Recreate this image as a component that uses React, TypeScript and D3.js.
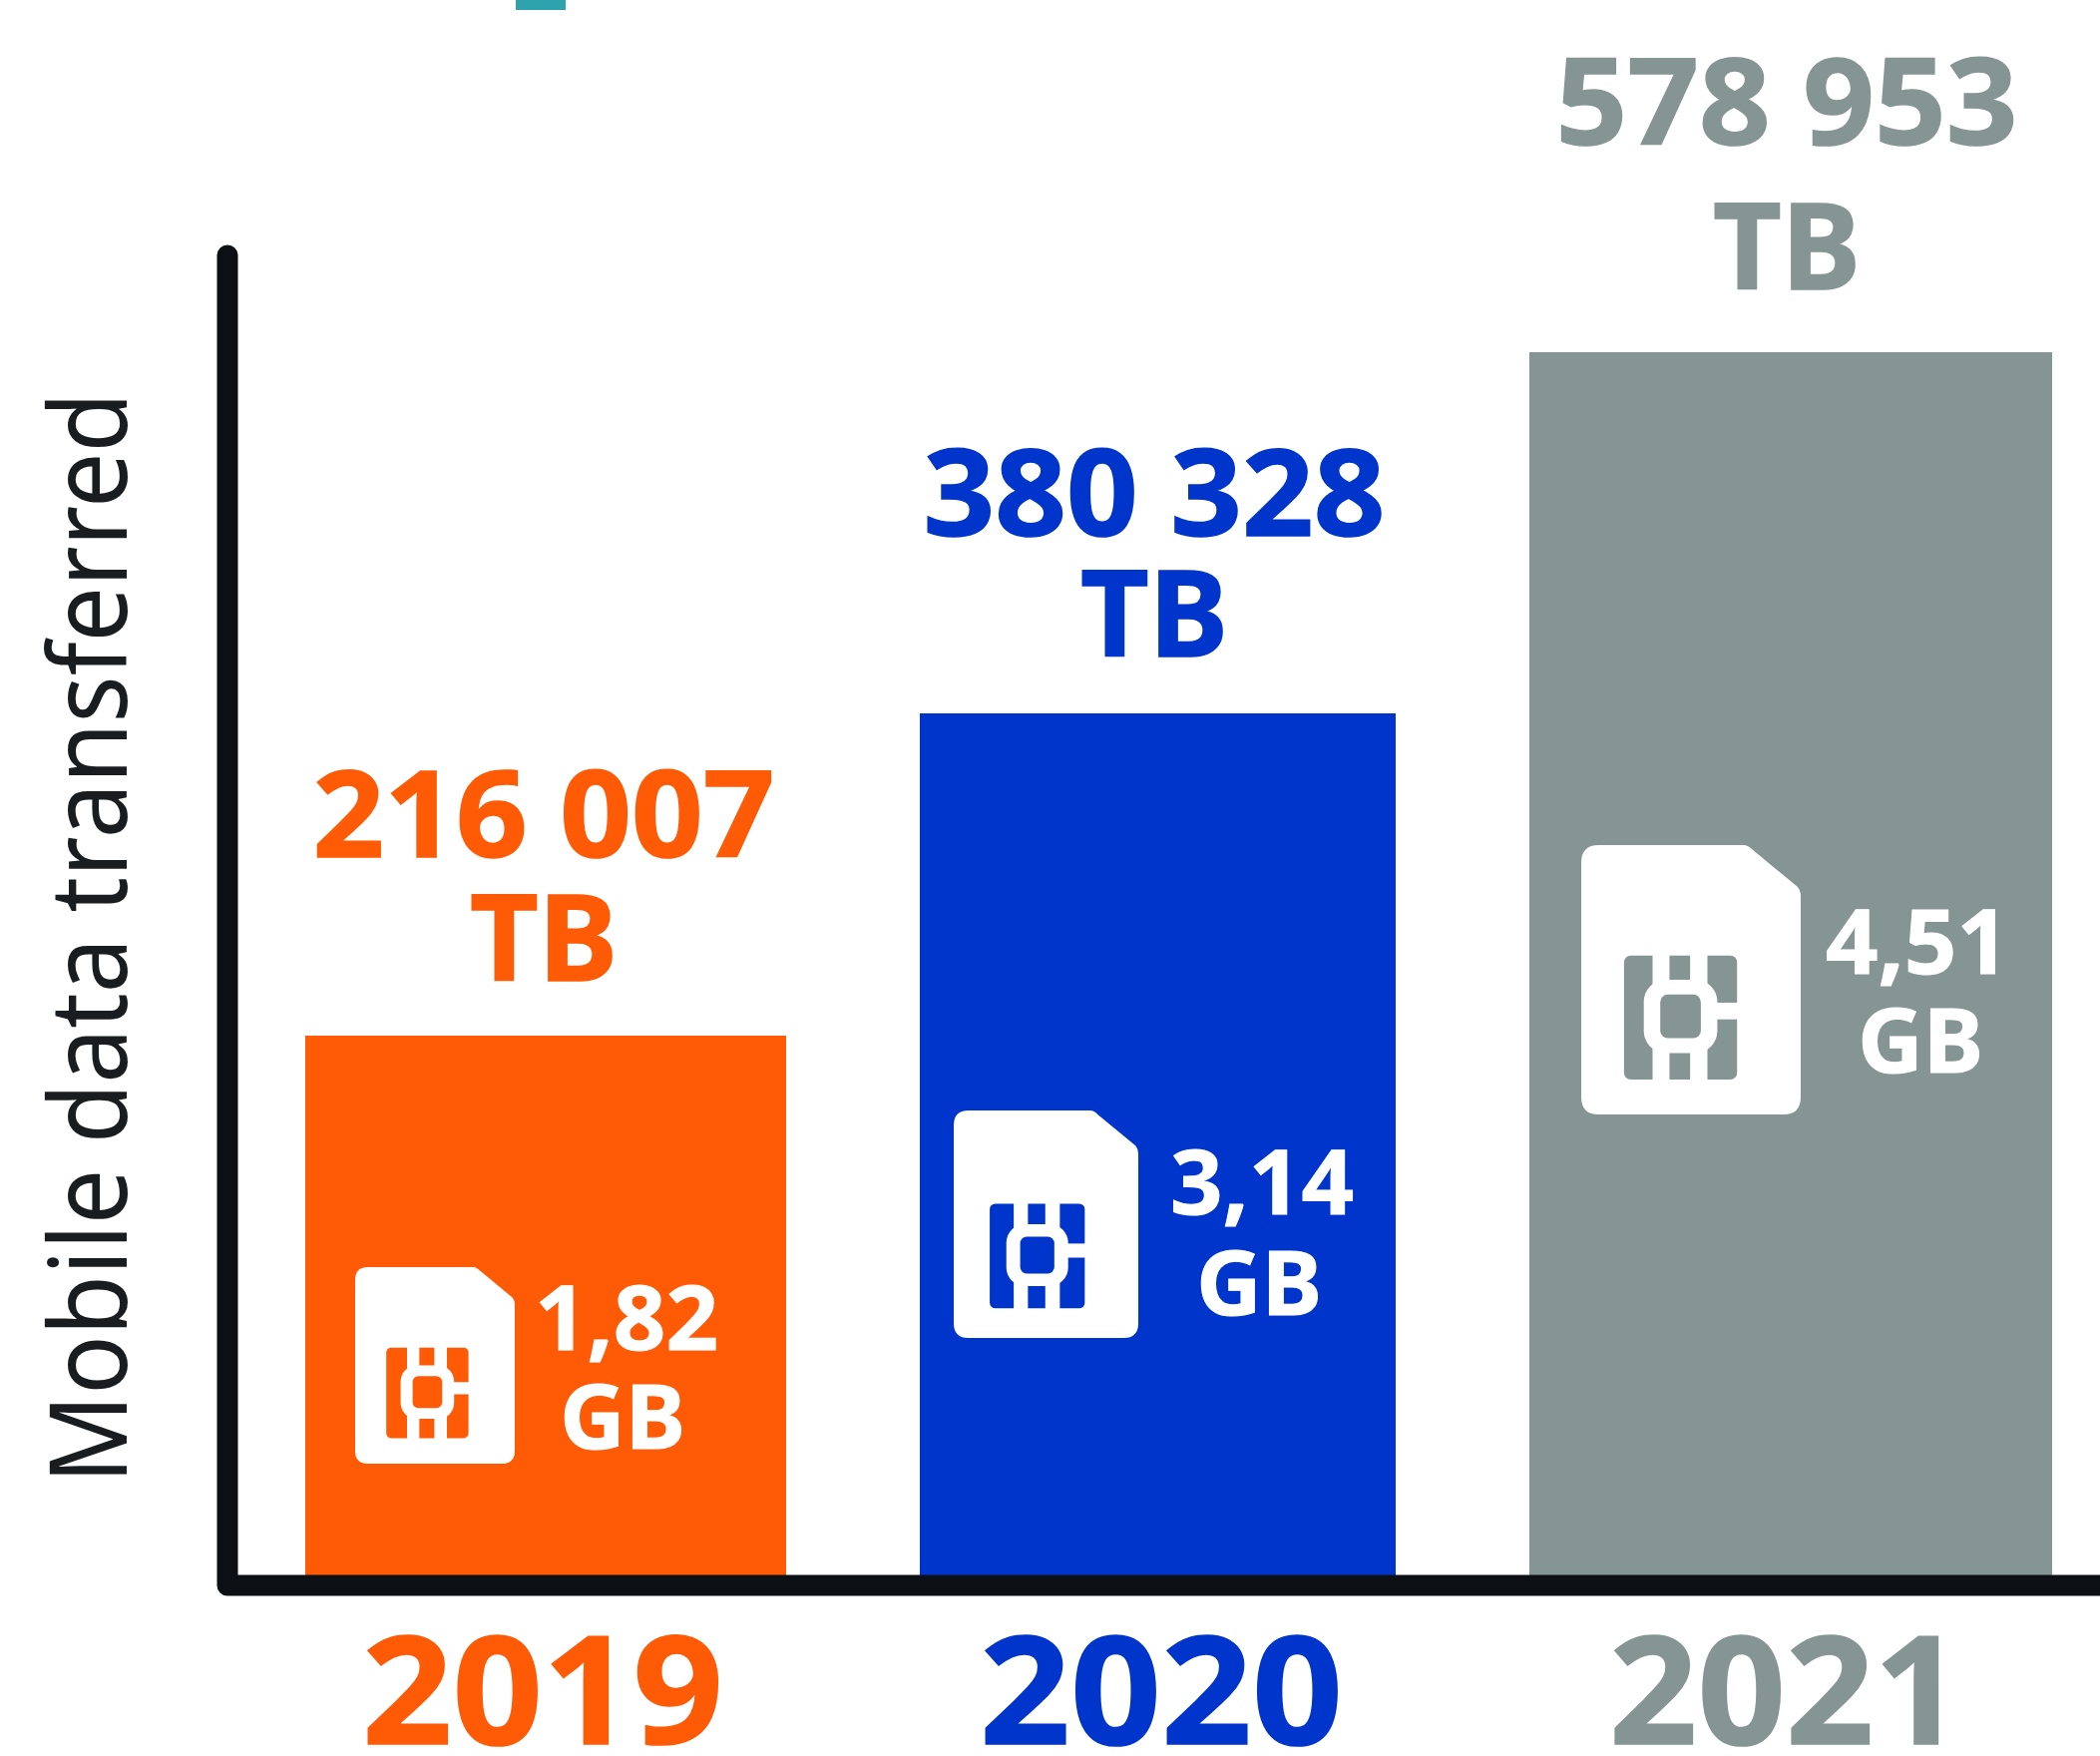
import React from "react";
import * as d3 from "d3";

const years = ["2019", "2020", "2021"];
const totalsTB = [216007, 380328, 578953];
const totalLabels = ["216 007", "380 328", "578 953"];
const perSimLabels = ["1,82", "3,14", "4,51"];
const colors = ["#FF5A05", "#0035CC", "#859593"];
const yTitle = "Mobile data transferred";

const W = 2105, H = 1760;
const BASE = 1579;
const FONT = "'Noto Sans', 'Open Sans', sans-serif";

// The source picture is not strictly proportional: piecewise scales reproduce its bar heights and widths.
const y = d3.scaleLinear().domain([0, totalsTB[0], totalsTB[1], totalsTB[2]]).range([BASE, 1038, 715, 353]);
const xEdge = d3.scaleLinear().domain([0, 1, 2, 3, 4, 5]).range([306, 788, 922, 1399, 1533, 2057]);

const simBoxes = [
  { x0: 356, x1: 516, y0: 1270, y1: 1467 },
  { x0: 956, x1: 1141, y0: 1113, y1: 1341 },
  { x0: 1585, x1: 1805, y0: 847, y1: 1117 },
];
const labelLayout = [
  { cx: 545, b1: 859, b2: 983, simCx: 628, gbCx: 624, s1: 1353, s2: 1452, yearCx: 544, yearLen: 362 },
  { cx: 1157, b1: 537, b2: 658, simCx: 1265, gbCx: 1262, s1: 1217, s2: 1318, yearCx: 1164, yearLen: 364 },
  { cx: 1791, b1: 145, b2: 290, simCx: 1922, gbCx: 1925, s1: 976, s2: 1075, yearCx: 1790, yearLen: 354 },
];

function SimIcon({ box, color }: { box: { x0: number; x1: number; y0: number; y1: number }; color: string }) {
  const sx = d3.scaleLinear().domain([0, 1]).range([box.x0, box.x1]);
  const sy = d3.scaleLinear().domain([0, 1]).range([box.y0, box.y1]);
  const w = box.x1 - box.x0;
  const r = w * 0.08;
  const c = w * 0.03;
  const body = d3.path();
  body.moveTo(sx(0) + r, sy(0));
  body.lineTo(sx(0.74), sy(0));
  body.quadraticCurveTo(sx(0.76), sy(0), sx(0.78), sy(0.017));
  body.lineTo(sx(0.985), sy(0.155));
  body.quadraticCurveTo(sx(1), sy(0.17), sx(1), sy(0.19));
  body.lineTo(sx(1), sy(1) - r);
  body.quadraticCurveTo(sx(1), sy(1), sx(1) - r, sy(1));
  body.lineTo(sx(0) + r, sy(1));
  body.quadraticCurveTo(sx(0), sy(1), sx(0), sy(1) - r);
  body.lineTo(sx(0), sy(0) + r);
  body.quadraticCurveTo(sx(0), sy(0), sx(0) + r, sy(0));
  body.closePath();
  const rect = (a: number, b: number, t: number, d: number, fill: string, rx = 0) => (
    <rect x={sx(a)} y={sy(t)} width={sx(b) - sx(a)} height={sy(d) - sy(t)} fill={fill} rx={rx} />
  );
  return (
    <g>
      <path d={body.toString()} fill="#fff" />
      {rect(0.195, 0.71, 0.41, 0.87, color, c)}
      {rect(0.325, 0.402, 0.4, 0.88, "#fff")}
      {rect(0.496, 0.575, 0.4, 0.88, "#fff")}
      {rect(0.6, 0.72, 0.585, 0.647, "#fff")}
      {rect(0.285, 0.62, 0.5, 0.772, "#fff", w * 0.1)}
      {rect(0.36, 0.545, 0.555, 0.717, color, w * 0.035)}
    </g>
  );
}

export default function App() {
  return (
    <svg width={W} height={H} viewBox={`0 0 ${W} ${H}`} style={{ position: "absolute", left: 0, top: 0, background: "#fff" }} fontFamily={FONT}>
      <rect x={517} y={0} width={50} height={10} fill="#2FA3AD" />
      {totalsTB.map((v, i) => (
        <rect key={years[i]} x={xEdge(i * 2)} width={xEdge(i * 2 + 1) - xEdge(i * 2)} y={y(v)} height={BASE - y(v)} fill={colors[i]} />
      ))}
      <path d={`M228,256 V1589 H${W}`} fill="none" stroke="#0C1014" strokeWidth={21} strokeLinecap="round" strokeLinejoin="round" />
      {simBoxes.map((b, i) => <SimIcon key={i} box={b} color={colors[i]} />)}
      {years.map((yr, i) => {
        const l = labelLayout[i];
        const heavy = { stroke: colors[i], strokeWidth: 1.5 };
        return (
          <g key={yr} textAnchor="middle" fontWeight={700}>
            <text x={l.cx} y={l.b1} fontSize={120} fill={colors[i]} {...heavy} textLength={463} lengthAdjust="spacingAndGlyphs">{totalLabels[i]}</text>
            <text x={l.cx} y={l.b2} fontSize={120} fill={colors[i]} {...heavy} textLength={148} lengthAdjust="spacingAndGlyphs">TB</text>
            <text x={l.simCx} y={l.s1} fontSize={90} fill="#fff" stroke="#fff" strokeWidth={1} textLength={184} lengthAdjust="spacingAndGlyphs">{perSimLabels[i]}</text>
            <text x={l.gbCx} y={l.s2} fontSize={90} fill="#fff" stroke="#fff" strokeWidth={1} textLength={126} lengthAdjust="spacingAndGlyphs">GB</text>
            <text x={l.yearCx} y={1748} fontSize={150} fill={colors[i]} {...heavy} textLength={l.yearLen} lengthAdjust="spacingAndGlyphs">{yr}</text>
          </g>
        );
      })}
      <text transform="translate(127,940) rotate(-90)" textAnchor="middle" fontSize={107} fontWeight={400} fill="#1A1D20" textLength={1094} lengthAdjust="spacingAndGlyphs">{yTitle}</text>
    </svg>
  );
}
